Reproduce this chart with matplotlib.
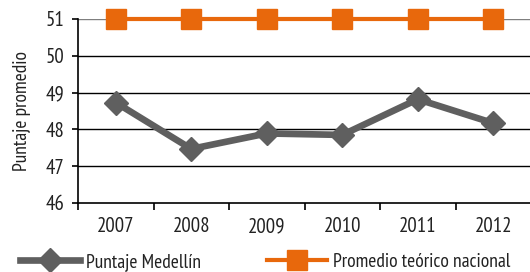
import matplotlib
matplotlib.use("Agg")
import matplotlib.pyplot as plt

years = ["2007", "2008", "2009", "2010", "2011", "2012"]
medellin = [48.73, 47.47, 47.89, 47.85, 48.82, 48.17]
nacional = [51, 51, 51, 51, 51, 51]
yticks = [46, 47, 48, 49, 50, 51]

plt.rcParams['font.family'] = ['PT Sans Narrow', 'DejaVu Sans']
text_color = "#222222"
fs_tick = 15
fs_lab = 14

fig = plt.figure(figsize=(5.30, 2.72), dpi=100)
ax = fig.add_axes([78/530, 1 - 203/272, 453/530, (203-19)/272])

x = list(range(len(years)))
gray = "#5f5f5f"
orange = "#e8680c"
ax.plot(x, medellin, color=gray, lw=4.8, marker="D", ms=12, label="Puntaje Medellín",
        solid_joinstyle="miter", zorder=3)
ax.plot(x, nacional, color=orange, lw=3, marker="s", ms=14, label="Promedio teórico nacional",
        zorder=4, clip_on=False)

ax.set_xlim(-0.5, 5.5)
ax.set_ylim(46, 51)
ax.set_yticks(yticks)
ax.set_yticklabels([str(v) for v in yticks], fontsize=fs_tick, color=text_color)
ax.set_xticks(x)
ax.set_xticklabels(years, fontsize=fs_tick, color=text_color)
ax.set_xticks([i - 0.5 for i in range(len(years) + 1)], minor=True)
ax.tick_params(axis="x", which="major", length=0, pad=10)
ax.tick_params(axis="x", which="minor", length=5, width=1.2, direction="out", color="black")
ax.tick_params(axis="y", length=4, width=1.2, color="black", pad=6)
for v in yticks[1:]:
    ax.axhline(v, color="#7f7f7f" if v == 51 else "black", lw=1.0, zorder=1)
for s in ["top", "right"]:
    ax.spines[s].set_visible(False)
ax.spines["left"].set_linewidth(1.2)
ax.spines["bottom"].set_linewidth(1.2)
ax.set_ylabel("Puntaje promedio", fontsize=fs_lab, labelpad=10, color=text_color)

leg = fig.legend(loc="lower center", bbox_to_anchor=(0.5, -0.06), ncol=2, frameon=False,
                 fontsize=fs_lab, handlelength=3.1, columnspacing=3.4, handletextpad=0.3)
for t in leg.get_texts():
    t.set_color(text_color)
fig.savefig("out.png", dpi=100)
